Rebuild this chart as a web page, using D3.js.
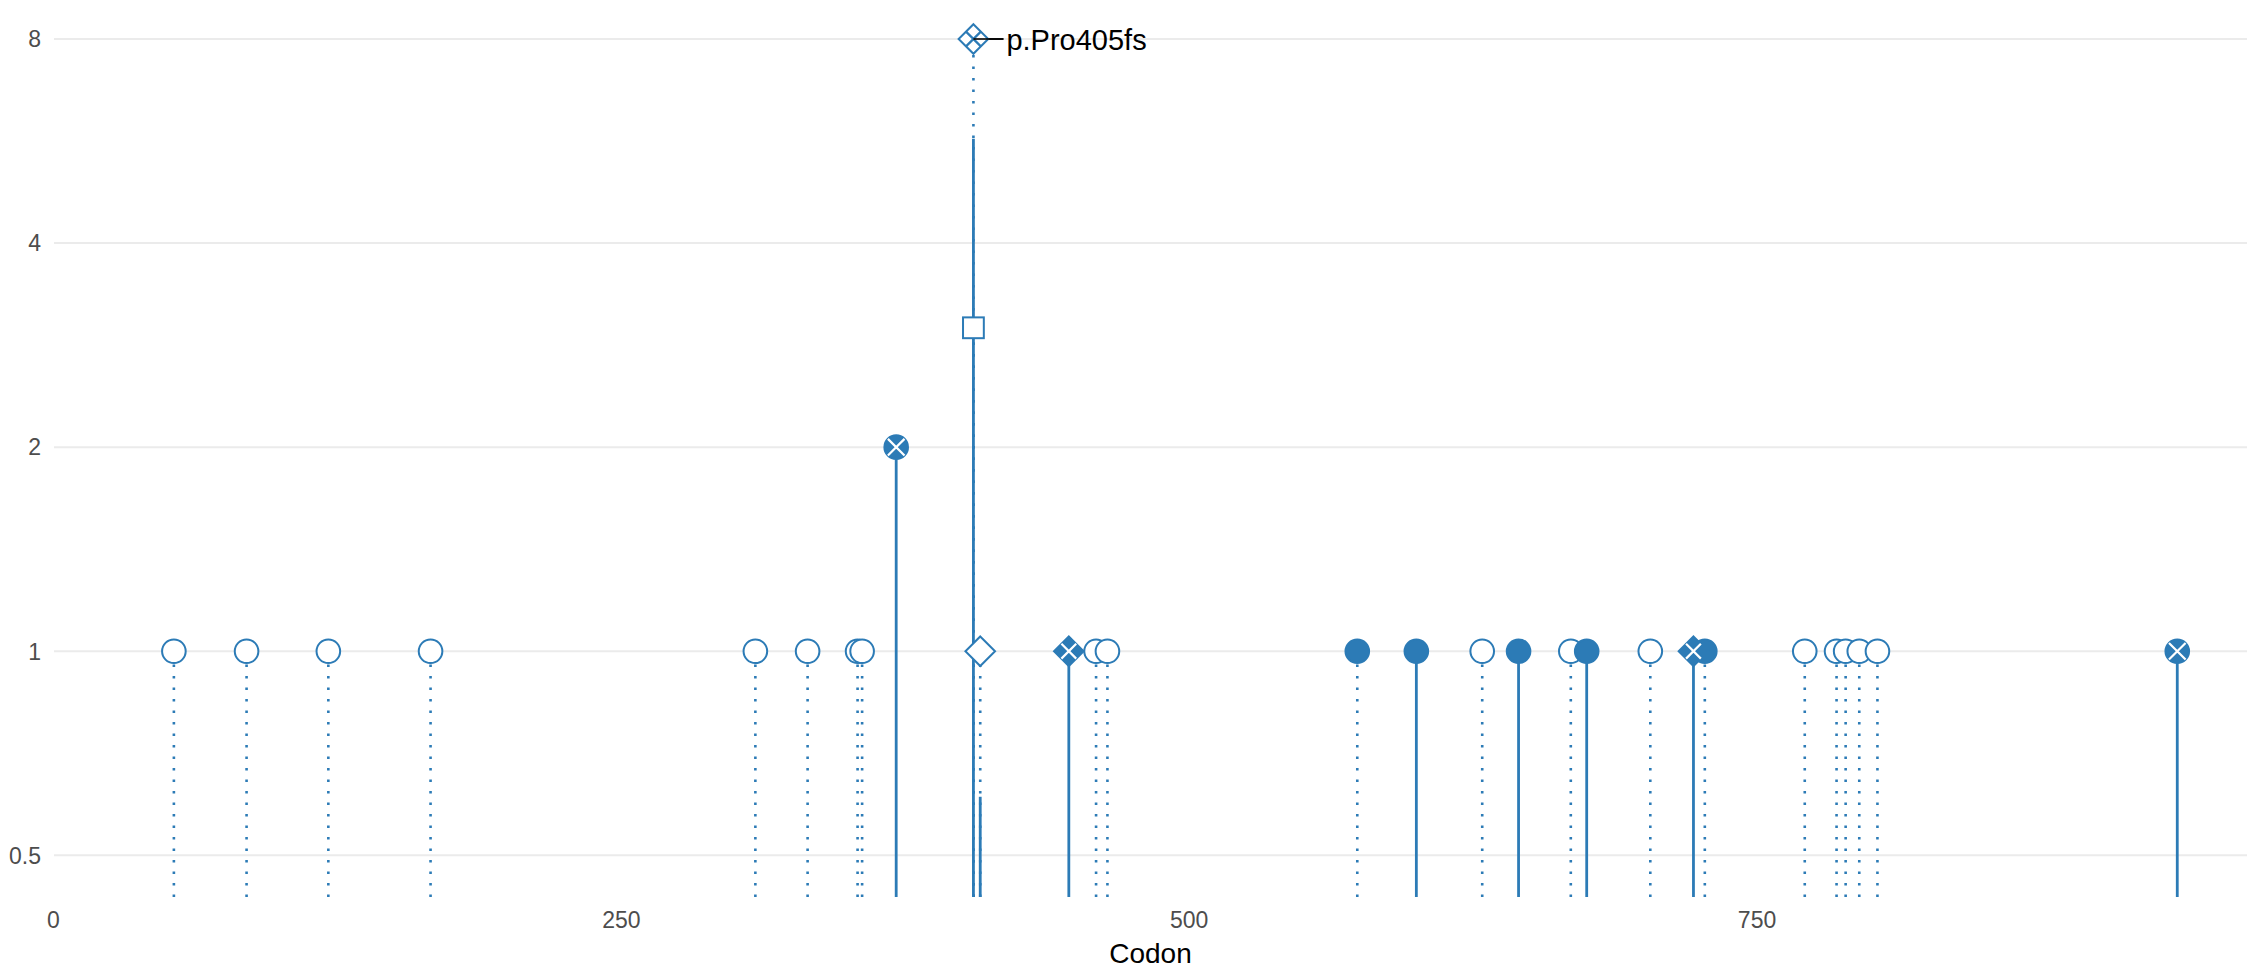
<!DOCTYPE html>
<html>
<head>
<meta charset="utf-8">
<script src="https://cdn.jsdelivr.net/npm/d3@7"></script>
<style>
  html, body { margin: 0; padding: 0; background: #ffffff; }
  svg { display: block; }
  text { font-family: "Liberation Sans", Arial, sans-serif; }
</style>
</head>
<body>
<svg id="chart" width="2247" height="974"></svg>
<script>
// ---- data ----
const codons   = [53, 85, 121, 166, 309, 332, 354, 356, 371, 405, 405, 408, 447, 459, 464, 574, 600, 629, 645, 668, 675, 703, 722, 727, 771, 785, 789, 795, 803, 935];
const counts   = [1, 1, 1, 1, 1, 1, 1, 1, 2, 8, 3, 1, 1, 1, 1, 1, 1, 1, 1, 1, 1, 1, 1, 1, 1, 1, 1, 1, 1, 1];
const shapes   = ["circle","circle","circle","circle","circle","circle","circle","circle","circle","diamond","square","diamond","diamond","circle","circle","circle","circle","circle","circle","circle","circle","circle","diamond","circle","circle","circle","circle","circle","circle","circle"];
const filled   = [false,false,false,false,false,false,false,false,true,false,false,false,true,false,false,true,true,false,true,false,true,false,true,true,false,false,false,false,false,true];
const crossed  = [false,false,false,false,false,false,false,false,true,true,false,false,true,false,false,false,false,false,false,false,false,false,true,false,false,false,false,false,false,true];
const stemType = ["dotted","dotted","dotted","dotted","dotted","dotted","dotted","dotted","solid","dotted","dotted","dotted","solid","dotted","dotted","dotted","solid","dotted","solid","dotted","solid","dotted","solid","dotted","dotted","dotted","dotted","dotted","dotted","solid"];
// extra solid stems without markers
const extraStemCodons = [405, 408];
const extraStemTops   = [5.7, 0.61];
// annotation
const labelCodon = 405;
const labelCount = 8;
const labelText  = "p.Pro405fs";
// axes
const xTicks = [0, 250, 500, 750];
const yTicks = [0.5, 1, 2, 4, 8];
const yTickLabels = ["0.5", "1", "2", "4", "8"];
const xTitle = "Codon";

// ---- layout ----
const W = 2247, H = 974;
const plotLeft = 53.5, plotRight = 2247, plotTop = 39, plotBottom = 897;
const color = "#2c7bb6";

const x = d3.scaleLinear().domain([0, 965.7]).range([plotLeft, plotRight]);
const y = d3.scaleLog().base(2).domain([0.434, 8]).range([plotBottom, plotTop]);

const svg = d3.select("#chart");

// grid
svg.append("g").selectAll("line").data(yTicks).join("line")
  .attr("x1", 54).attr("x2", W)
  .attr("y1", d => y(d)).attr("y2", d => y(d))
  .attr("stroke", "#ebebeb").attr("stroke-width", 2);

// y axis labels
svg.append("g").selectAll("text").data(yTicks).join("text")
  .attr("x", 41).attr("y", d => y(d))
  .attr("dy", "0.36em")
  .attr("text-anchor", "end")
  .attr("font-size", 23).attr("fill", "#4d4d4d")
  .text((d, i) => yTickLabels[i]);

// x axis labels
svg.append("g").selectAll("text").data(xTicks).join("text")
  .attr("x", d => x(d)).attr("y", 928)
  .attr("text-anchor", "middle")
  .attr("font-size", 23).attr("fill", "#4d4d4d")
  .text(d => d);

svg.append("text")
  .attr("x", (54 + W) / 2).attr("y", 963)
  .attr("text-anchor", "middle")
  .attr("font-size", 28).attr("fill", "#000")
  .text(xTitle);

const pts = codons.map((c, i) => ({
  codon: c, count: counts[i], shape: shapes[i], filled: filled[i],
  cross: crossed[i], stem: stemType[i]
}));

// solid stems first
const stems = svg.append("g");
extraStemCodons.forEach((c, i) => {
  stems.append("line")
    .attr("x1", x(c)).attr("x2", x(c))
    .attr("y1", plotBottom).attr("y2", y(extraStemTops[i]))
    .attr("stroke", color).attr("stroke-width", 2.8);
});
pts.filter(p => p.stem === "solid").forEach(p => {
  stems.append("line")
    .attr("x1", x(p.codon)).attr("x2", x(p.codon))
    .attr("y1", plotBottom).attr("y2", y(p.count))
    .attr("stroke", color).attr("stroke-width", 2.8);
});
pts.filter(p => p.stem === "dotted").forEach(p => {
  stems.append("line")
    .attr("x1", x(p.codon)).attr("x2", x(p.codon))
    .attr("y1", plotBottom).attr("y2", y(p.count))
    .attr("stroke", color).attr("stroke-width", 2.6)
    .attr("stroke-dasharray", "2.6,8.9");
});

// annotation leader line
svg.append("line")
  .attr("x1", x(labelCodon)).attr("x2", x(labelCodon) + 30)
  .attr("y1", y(labelCount)).attr("y2", y(labelCount))
  .attr("stroke", "#000").attr("stroke-width", 1.6);

// markers
const mk = svg.append("g");
const order = { circle: 0, square: 1, diamond: 2 };
const sorted = pts.slice().sort((a, b) => (order[a.shape] - order[b.shape]) || (a.filled - b.filled));
sorted.forEach(p => {
  const cx = x(p.codon), cy = y(p.count);
  const fill = p.filled ? color : "#ffffff";
  if (p.shape === "circle") {
    mk.append("circle").attr("cx", cx).attr("cy", cy).attr("r", 11.8)
      .attr("fill", fill).attr("stroke", color).attr("stroke-width", 2);
    if (p.cross) {
      const s = 8.3;
      mk.append("path")
        .attr("d", `M${cx - s},${cy - s}L${cx + s},${cy + s}M${cx - s},${cy + s}L${cx + s},${cy - s}`)
        .attr("stroke", "#fff").attr("stroke-width", 2.2).attr("fill", "none");
    }
  } else if (p.shape === "diamond") {
    const h = 14.8;
    mk.append("path")
      .attr("d", `M${cx},${cy - h}L${cx + h},${cy}L${cx},${cy + h}L${cx - h},${cy}Z`)
      .attr("fill", fill).attr("stroke", color).attr("stroke-width", 2);
    if (p.cross) {
      const s = h / 2;
      mk.append("path")
        .attr("d", `M${cx - s},${cy - s}L${cx + s},${cy + s}M${cx - s},${cy + s}L${cx + s},${cy - s}`)
        .attr("stroke", p.filled ? "#fff" : color).attr("stroke-width", 2.2).attr("fill", "none");
    }
  } else if (p.shape === "square") {
    const s = 10.4;
    mk.append("rect").attr("x", cx - s).attr("y", cy - s)
      .attr("width", 2 * s).attr("height", 2 * s)
      .attr("fill", fill).attr("stroke", color).attr("stroke-width", 2);
  }
});

// leader line drawn over marker (reaches into marker center)
svg.append("line")
  .attr("x1", x(labelCodon)).attr("x2", x(labelCodon) + 30)
  .attr("y1", y(labelCount)).attr("y2", y(labelCount))
  .attr("stroke", "#000").attr("stroke-width", 1.6);

svg.append("text")
  .attr("x", x(labelCodon) + 33).attr("y", y(labelCount) + 11)
  .attr("font-size", 29).attr("fill", "#000")
  .text(labelText);
</script>
</body>
</html>
